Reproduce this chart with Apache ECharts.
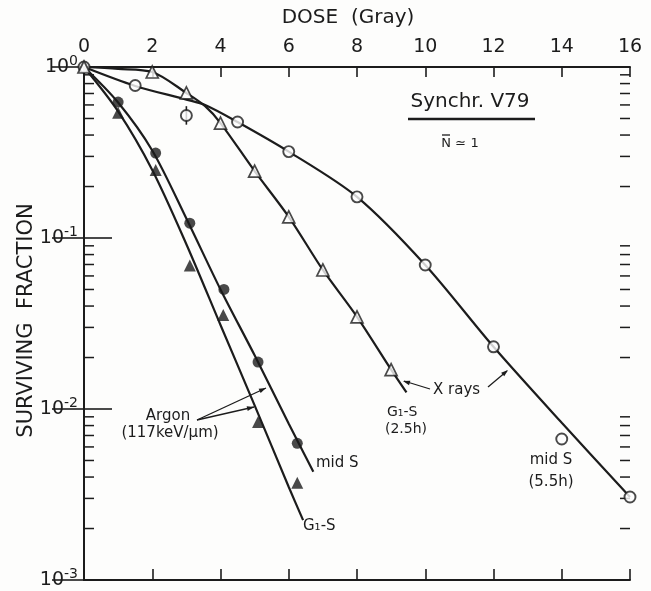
<!DOCTYPE html>
<html>
<head>
<meta charset="utf-8">
<script src="https://cdn.jsdelivr.net/npm/echarts@6/dist/echarts.min.js"></script>
<style>
  html, body { margin: 0; padding: 0; background: #fdfdfc; }
  #chart { width: 651px; height: 591px; }
</style>
</head>
<body>
<div id="chart"></div>
<script>
// Survival curves, synchronized V79 cells: X rays vs. argon ions (117 keV/um)

// X rays, mid S (5.5 h) - measured points
const xrayMidDose = [0, 1.5, 3, 4.5, 6, 8, 10, 12, 14, 16];
const xrayMidSurv = [1, 0.78, 0.52, 0.477, 0.32, 0.174, 0.0695, 0.0231, 0.00668, 0.00306];
// error bar on the 3 Gy point
const xrayMidErrDose = [3];
const xrayMidErrLow = [0.46];
const xrayMidErrHigh = [0.59];
// X rays, mid S - fitted curve
const xrayMidFitDose = [0, 1.5, 3, 3.55, 4.5, 6, 8, 10, 12, 14, 16];
const xrayMidFitSurv = [1, 0.775, 0.645, 0.6, 0.477, 0.32, 0.174, 0.0695, 0.0231, 0.0083, 0.00306];

// X rays, G1-S (2.5 h) - measured points
const xrayG1Dose = [0, 2, 3, 4, 5, 6, 7, 8, 9];
const xrayG1Surv = [1, 0.935, 0.705, 0.47, 0.246, 0.133, 0.065, 0.0346, 0.017];
// X rays, G1-S - fitted curve
const xrayG1FitDose = [0, 1, 2, 3, 3.55, 4, 5, 6, 7, 8, 9, 9.45];
const xrayG1FitSurv = [1, 0.975, 0.935, 0.705, 0.59, 0.47, 0.246, 0.133, 0.065, 0.0346, 0.017, 0.0125];

// Argon, mid S - measured points
const argonMidDose = [1, 2.1, 3.1, 4.1, 5.1, 6.25];
const argonMidSurv = [0.624, 0.314, 0.122, 0.05, 0.0188, 0.0063];
// Argon, mid S - fitted curve
const argonMidFitDose = [0, 1, 2, 3, 4, 5, 6, 6.72];
const argonMidFitSurv = [1, 0.62, 0.325, 0.13, 0.05, 0.0206, 0.0082, 0.0043];

// Argon, G1-S - measured points
const argonG1Dose = [1, 2.1, 3.1, 4.08, 5.1, 6.25];
const argonG1Surv = [0.54, 0.25, 0.069, 0.0355, 0.0084, 0.0037];
// Argon, G1-S - fitted curve
const argonG1FitDose = [0, 1, 2, 3, 4, 5, 6, 6.42];
const argonG1FitSurv = [1, 0.55, 0.25, 0.092, 0.031, 0.0105, 0.0035, 0.00224];

// axis ranges and minor (2..9) log ticks
const doseMin = 0, doseMax = 16, doseStep = 2;
const survMin = 0.001, survMax = 1;
const minorTickValues = [
  0.002, 0.003, 0.004, 0.005, 0.006, 0.007, 0.008, 0.009,
  0.02, 0.03, 0.04, 0.05, 0.06, 0.07, 0.08, 0.09,
  0.2, 0.3, 0.4, 0.5, 0.6, 0.7, 0.8, 0.9
];

const INK = '#1c1c1c';
const PAPER = '#fdfdfc';
const FONT = 'DejaVu Sans';

function pairs(xs, ys) { return xs.map(function (x, i) { return [x, ys[i]]; }); }

const axisLineStyle = { color: INK, width: 2 };

function decadeLabel(v) {
  const e = Math.round(Math.log10(v));
  return '{b|10}{s|' + (e === 0 ? '0' : String(e)) + '}';
}

const xAxisBase = {
  type: 'value', min: doseMin, max: doseMax, interval: doseStep,
  axisLine: { show: true, lineStyle: axisLineStyle },
  splitLine: { show: false }
};

const yAxisBase = {
  type: 'log', logBase: 10, min: survMin, max: survMax,
  splitLine: { show: false }
};

const fitLine = { color: INK, width: 2.2 };

const option = {
  backgroundColor: PAPER,
  animation: false,
  grid: { left: 84, right: 21, top: 67, bottom: 11, containLabel: false, outerBoundsMode: 'none' },
  xAxis: [
    Object.assign({}, xAxisBase, {
      position: 'top',
      name: 'DOSE  (Gray)', nameLocation: 'middle', nameGap: 39, nameMoveOverlap: false,
      nameTextStyle: { fontFamily: FONT, fontSize: 20, color: INK, padding: [0, 18, 0, 0] },
      axisTick: { show: true, inside: true, length: 10, lineStyle: { color: INK, width: 1.6 } },
      axisLabel: { show: true, margin: 10, fontFamily: FONT, fontSize: 19, color: INK,
        showMinLabel: true, showMaxLabel: true }
    }),
    Object.assign({}, xAxisBase, {
      position: 'bottom',
      axisTick: { show: true, inside: true, length: 11, lineStyle: { color: INK, width: 1.6 } },
      axisLabel: { show: false }
    })
  ],
  yAxis: [
    Object.assign({}, yAxisBase, {
      position: 'left',
      name: 'SURVIVING  FRACTION', nameLocation: 'middle', nameGap: 47, nameRotate: 90,
      nameMoveOverlap: false,
      nameTextStyle: { fontFamily: FONT, fontSize: 21, color: INK, padding: [0, 0, 0, 6] },
      axisLine: { show: true, lineStyle: axisLineStyle },
      axisTick: { show: true, inside: true, length: 28, lineStyle: { color: INK, width: 1.6 } },
      axisLabel: {
        show: true, margin: 6, formatter: decadeLabel, showMinLabel: true, showMaxLabel: true,
        rich: {
          b: { fontFamily: FONT, fontSize: 19, color: INK },
          s: { fontFamily: FONT, fontSize: 14, color: INK, verticalAlign: 'top', padding: [0, 0, 12, 0] }
        }
      }
    }),
    Object.assign({}, yAxisBase, {
      position: 'right',
      axisLine: { show: true, lineStyle: axisLineStyle },
      axisTick: { show: true, inside: true, length: 32, lineStyle: { color: INK, width: 1.6 } },
      axisLabel: { show: false }
    })
  ],
  series: [
    // minor log ticks on the left and right frame edges
    { type: 'custom', z: 1, silent: true,
      data: minorTickValues.map(function (v) { return [doseMin, v]; }),
      renderItem: function (params, api) {
        const v = api.value(1);
        const l = api.coord([doseMin, v]);
        const r = api.coord([doseMax, v]);
        const st = { stroke: INK, lineWidth: 1.5 };
        return { type: 'group', children: [
          { type: 'line', shape: { x1: l[0], y1: l[1], x2: l[0] + 10, y2: l[1] }, style: st },
          { type: 'line', shape: { x1: r[0], y1: r[1], x2: r[0] - 10, y2: r[1] }, style: st }
        ] };
      }
    },
    // fitted curves
    { type: 'line', smooth: 0.3, showSymbol: false,
      data: pairs(xrayMidFitDose, xrayMidFitSurv), lineStyle: fitLine, z: 2 },
    { type: 'line', smooth: 0.3, showSymbol: false,
      data: pairs(xrayG1FitDose, xrayG1FitSurv), lineStyle: fitLine, z: 2 },
    { type: 'line', smooth: 0.3, showSymbol: false,
      data: pairs(argonMidFitDose, argonMidFitSurv), lineStyle: fitLine, z: 2 },
    { type: 'line', smooth: 0.3, showSymbol: false,
      data: pairs(argonG1FitDose, argonG1FitSurv), lineStyle: fitLine, z: 2 },
    // error bar
    { type: 'custom', z: 3,
      data: xrayMidErrDose.map(function (d, i) { return [d, xrayMidErrLow[i], xrayMidErrHigh[i]]; }),
      renderItem: function (params, api) {
        const lo = api.coord([api.value(0), api.value(1)]);
        const hi = api.coord([api.value(0), api.value(2)]);
        return { type: 'line', shape: { x1: lo[0], y1: lo[1], x2: hi[0], y2: hi[1] },
          style: { stroke: INK, lineWidth: 1.6 } };
      }
    },
    // measured points
    { type: 'scatter', symbol: 'circle', symbolSize: 11, data: pairs(xrayMidDose, xrayMidSurv),
      itemStyle: { color: PAPER, borderColor: INK, borderWidth: 1.9 }, z: 4 },
    { type: 'scatter', symbol: 'triangle', symbolSize: 12, data: pairs(xrayG1Dose, xrayG1Surv),
      itemStyle: { color: PAPER, borderColor: INK, borderWidth: 1.7 }, z: 4 },
    { type: 'scatter', symbol: 'circle', symbolSize: 11, data: pairs(argonMidDose, argonMidSurv),
      itemStyle: { color: INK }, z: 4 },
    { type: 'scatter', symbol: 'triangle', symbolSize: 12, data: pairs(argonG1Dose, argonG1Surv),
      itemStyle: { color: INK }, z: 4 }
  ]
};

const chart = echarts.init(document.getElementById('chart'), null, { renderer: 'canvas' });
chart.setOption(option);

// text annotations and leader lines
function txt(x, y, text, size, align) {
  return { type: 'text', x: x, y: y, z: 10,
    style: { text: text, fontFamily: FONT, fontSize: size, fill: INK,
      align: align || 'left', verticalAlign: 'middle' } };
}
function seg(x1, y1, x2, y2, w) {
  return { type: 'line', z: 10, shape: { x1: x1, y1: y1, x2: x2, y2: y2 },
    style: { stroke: INK, lineWidth: w || 1.3 } };
}
function arrowHead(x, y, ang) {
  const L = 7, W = 2.4;
  const c = Math.cos(ang), s = Math.sin(ang);
  return { type: 'polygon', z: 10,
    shape: { points: [[x, y], [x - L * c + W * s, y - L * s - W * c], [x - L * c - W * s, y - L * s + W * c]] },
    style: { fill: INK } };
}

chart.setOption({
  graphic: [
    txt(470, 102, 'Synchr. V79', 20, 'center'),
    seg(408, 119, 535, 119, 2.4),
    // N with overbar
    txt(446, 144, 'N', 13, 'center'),
    seg(442, 135, 450, 135, 1.3),
    txt(467, 144, '\u2243 1', 13, 'center'),

    txt(168, 416, 'Argon', 15, 'center'),
    txt(170, 433, '(117keV/\u03bcm)', 15, 'center'),
    seg(197, 420, 266, 388),
    seg(197, 420, 254, 407),
    arrowHead(266, 388, Math.atan2(388 - 420, 266 - 197)),
    arrowHead(254, 407, Math.atan2(407 - 420, 254 - 197)),

    txt(316, 463, 'mid S', 15, 'left'),
    txt(303, 526, 'G\u2081-S', 15, 'left'),

    txt(387, 412, 'G\u2081-S', 14, 'left'),
    txt(385, 429, '(2.5h)', 14, 'left'),
    txt(433, 390, 'X rays', 15, 'left'),
    seg(430, 389, 404, 381),
    arrowHead(403, 381, Math.atan2(381 - 389, 403 - 430)),
    seg(488, 387, 507, 371),
    arrowHead(508, 370, Math.atan2(370 - 387, 508 - 488)),

    txt(551, 460, 'mid S', 15, 'center'),
    txt(551, 482, '(5.5h)', 15, 'center')
  ]
});
</script>
</body>
</html>
